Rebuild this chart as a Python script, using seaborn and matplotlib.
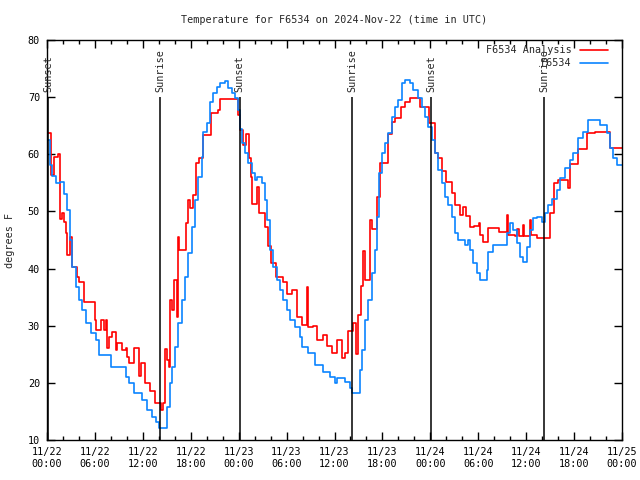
import matplotlib
matplotlib.use("Agg")
import matplotlib.dates as mdates
import matplotlib.pyplot as plt
import pandas as pd
import seaborn as sns

title = "Temperature for F6534 on 2024-Nov-22 (time in UTC)"
start = pd.Timestamp("2024-11-22 00:00")

# observed station temperatures (hours after start, degrees F)
obs_hours = [0.0, 0.38, 0.63, 1.13, 1.63, 2.13, 2.50, 2.88, 3.13, 3.63, 4.01, 4.38,
             4.88, 5.51, 6.14, 6.51, 7.51, 8.01, 9.39, 9.89, 10.27, 10.89, 11.90, 12.52,
             13.15, 13.65, 14.02, 14.90, 15.03, 15.40, 15.65, 16.03, 16.40, 16.90, 17.28, 17.66,
             18.16, 18.53, 18.91, 19.41, 19.53, 20.03, 20.41, 20.79, 21.29, 21.66, 22.29, 22.67,
             23.17, 23.54, 23.92, 24.17, 24.42, 24.79, 25.17, 25.67, 26.05, 26.30, 26.92, 27.30,
             27.55, 27.92, 28.30, 28.80, 29.18, 29.55, 30.05, 30.43, 31.05, 31.68, 31.93, 32.68,
             33.56, 34.56, 35.44, 36.06, 36.31, 37.32, 37.94, 38.19, 38.94, 39.19, 39.44, 39.82,
             40.20, 40.70, 41.07, 41.32, 41.57, 41.95, 42.32, 42.70, 43.20, 43.58, 43.95, 44.45,
             44.83, 45.45, 45.83, 46.46, 46.96, 47.33, 47.71, 48.21, 48.58, 48.96, 49.46, 49.84,
             50.21, 50.71, 51.09, 51.47, 52.34, 52.72, 52.97, 53.34, 53.84, 54.22, 55.10, 55.22,
             55.85, 57.35, 57.60, 57.98, 58.35, 58.85, 59.23, 59.60, 60.10, 60.48, 60.86, 61.36,
             61.98, 62.36, 62.73, 63.23, 63.86, 64.24, 64.86, 65.49, 65.87, 66.49, 67.12, 67.74,
             68.99, 69.25, 70.12, 70.49, 70.87, 71.37, 72.0]
obs_temps = [62.5, 58.1, 56.2, 55.0, 55.2, 53.0, 50.2, 45.0, 40.3, 36.8, 34.5, 32.7,
             30.5, 28.7, 27.5, 24.9, 24.9, 22.8, 22.8, 21.0, 20.0, 18.2, 17.0, 15.3,
             14.0, 13.2, 12.1, 12.1, 15.8, 20.0, 22.8, 26.3, 30.4, 34.5, 38.5, 42.7,
             47.3, 52.0, 56.0, 59.5, 63.9, 65.4, 69.2, 70.7, 71.8, 72.5, 72.8, 71.6,
             70.7, 69.8, 67.7, 64.5, 62.0, 60.2, 58.5, 56.7, 55.5, 56.0, 55.0, 52.0,
             48.5, 43.3, 40.3, 38.0, 36.2, 34.5, 32.7, 31.0, 29.8, 28.0, 26.3, 25.2,
             23.1, 21.9, 21.1, 20.0, 20.8, 20.2, 19.1, 18.2, 18.2, 22.2, 25.7, 31.0,
             34.5, 39.2, 43.3, 49.0, 56.7, 60.2, 62.0, 63.7, 66.5, 68.3, 69.5, 72.4,
             73.0, 72.4, 71.2, 69.8, 68.3, 66.5, 64.8, 62.5, 60.2, 57.2, 55.0, 52.5,
             51.1, 49.0, 46.2, 45.0, 44.1, 45.0, 43.3, 41.0, 39.2, 38.0, 39.7, 42.9,
             44.1, 44.1, 46.2, 47.9, 46.7, 44.4, 42.0, 41.2, 43.8, 46.7, 48.8, 49.0,
             48.2, 49.7, 51.1, 52.1, 53.7, 55.8, 57.6, 59.0, 60.2, 62.8, 63.9, 66.0,
             66.0, 65.1, 63.7, 61.1, 59.3, 58.1, 58.1]

# model analysis temperatures
ana_hours = [0.0, 0.50, 0.88, 1.38, 1.59, 1.88, 2.13, 2.38, 2.50, 2.88, 3.13, 3.76,
             4.01, 4.63, 5.89, 5.95, 6.14, 6.76, 7.14, 7.39, 7.51, 7.76, 8.14, 8.64,
             8.76, 9.39, 9.89, 10.02, 10.27, 10.89, 11.52, 11.77, 12.27, 12.89, 13.52, 14.27,
             14.52, 14.77, 15.02, 15.27, 15.40, 15.65, 15.90, 16.28, 16.40, 16.53, 17.40, 17.66,
             17.91, 18.29, 18.66, 19.04, 19.53, 20.54, 21.41, 21.66, 23.92, 24.17, 24.54, 24.92,
             25.29, 25.54, 25.67, 26.30, 26.55, 27.30, 27.68, 28.05, 28.68, 29.55, 30.05, 30.68,
             31.30, 31.93, 32.55, 32.68, 33.31, 33.81, 34.56, 35.06, 35.69, 36.31, 36.94, 37.32,
             37.69, 38.32, 38.69, 38.94, 39.32, 39.57, 39.82, 40.45, 40.70, 41.32, 41.70, 42.32,
             42.70, 43.20, 43.58, 44.33, 44.83, 45.45, 46.58, 46.71, 47.71, 47.83, 48.58, 48.96,
             49.46, 49.96, 50.71, 51.09, 51.72, 52.09, 52.47, 52.97, 53.47, 54.10, 54.22, 54.60,
             55.22, 56.60, 57.60, 57.73, 58.60, 58.85, 59.10, 59.60, 59.73, 60.48, 60.61, 61.36,
             62.98, 63.48, 63.98, 65.24, 65.49, 66.49, 67.61, 68.61, 70.49, 72.0]
ana_temps = [63.7, 56.4, 59.5, 60.0, 48.7, 49.7, 48.1, 46.2, 42.4, 45.5, 40.3, 38.5,
             37.6, 34.1, 34.1, 31.0, 29.2, 31.0, 29.2, 31.0, 26.1, 28.0, 28.9, 25.7,
             27.0, 25.7, 26.1, 24.5, 23.5, 26.1, 21.2, 23.5, 20.0, 18.5, 16.5, 15.3,
             16.5, 26.0, 24.0, 22.8, 34.5, 32.7, 38.0, 31.5, 45.5, 43.3, 48.0, 52.0,
             50.6, 52.9, 58.5, 59.3, 63.3, 67.2, 67.7, 69.7, 66.9, 64.3, 61.6, 63.5,
             59.3, 56.0, 51.3, 54.3, 49.7, 47.3, 44.0, 41.0, 38.5, 37.6, 35.5, 36.2,
             31.5, 30.2, 36.8, 29.8, 30.0, 27.5, 28.4, 26.5, 25.2, 27.5, 24.3, 25.2,
             29.0, 30.5, 25.0, 31.9, 37.0, 43.0, 38.0, 48.5, 47.0, 52.5, 58.5, 58.5,
             63.5, 65.7, 66.4, 68.3, 69.2, 69.8, 69.8, 68.3, 68.3, 65.4, 60.2, 59.3,
             57.0, 55.2, 53.2, 51.2, 49.4, 50.8, 49.2, 47.3, 47.5, 48.0, 45.9, 44.7,
             47.1, 46.4, 49.4, 45.9, 45.7, 47.0, 45.7, 47.6, 45.7, 48.5, 45.9, 45.3,
             49.7, 55.0, 55.5, 54.1, 58.3, 61.0, 63.7, 63.9, 61.1, 61.1]

sun_hours = [0.16, 14.19, 24.13, 38.23, 48.08, 62.27]
sun_labels = ["Sunset", "Sunrise", "Sunset", "Sunrise", "Sunset", "Sunrise"]

series_names = ["F6534 Analysis", "F6534"]
series_colors = ["#ff0000", "#0a84ff"]


def to_times(hours):
    return start + pd.to_timedelta(hours, unit="h")


frames = pd.concat([
    pd.DataFrame({"time": to_times(ana_hours), "temp": ana_temps, "series": series_names[0]}),
    pd.DataFrame({"time": to_times(obs_hours), "temp": obs_temps, "series": series_names[1]}),
], ignore_index=True)

sns.set_style("ticks")
plt.rcParams["font.family"] = ["DejaVu Sans Mono"]
plt.rcParams["font.size"] = 7.3

fig = plt.figure(figsize=(6.4, 4.8), dpi=100)
ax = fig.add_axes([47 / 640, 40 / 480, 575 / 640, 400 / 480])

sns.lineplot(data=frames, x="time", y="temp", hue="series", hue_order=series_names,
             palette=series_colors, estimator=None, drawstyle="steps-post",
             linewidth=1.2, ax=ax)

sun_times = to_times(sun_hours)
ax.vlines(sun_times, 10, 70, color="black", linewidth=1.1)
for t, label in zip(sun_times, sun_labels):
    ax.text(t, 70.9, label, rotation=90, ha="center", va="bottom", fontsize=7.3)

ax.set_xlim(start, start + pd.Timedelta(hours=72))
ax.set_ylim(10, 80)
ax.set_yticks(range(10, 81, 10))
ax.xaxis.set_major_locator(mdates.HourLocator(byhour=[0, 6, 12, 18]))
ax.xaxis.set_minor_locator(mdates.HourLocator(interval=2))
ax.xaxis.set_major_formatter(mdates.DateFormatter("%m/%d\n%H:%M"))
ax.tick_params(which="both", direction="in", top=True, right=True, colors="black",
               labelsize=7.3, width=1)
ax.tick_params(which="major", length=6, pad=5)
ax.tick_params(which="minor", length=3)
for spine in ax.spines.values():
    spine.set_visible(True)
    spine.set_color("black")
    spine.set_linewidth(1)
ax.set_xlabel("")
ax.set_ylabel("")

handles, labels = ax.get_legend_handles_labels()
ax.legend(handles, labels, loc="upper right", bbox_to_anchor=(1 - 9 / 575, 1.0),
          frameon=False, markerfirst=False, handlelength=2.8, handletextpad=0.8,
          labelspacing=0.3, borderaxespad=0.1, fontsize=7.3)

fig.text(334.5 / 640, 1 - 20 / 480, title, ha="center", va="center", fontsize=7.3)
fig.text(10 / 640, 240 / 480, "degrees F", rotation=90, ha="center", va="center",
         fontsize=7.3)

fig.savefig("out.png", dpi=100)
